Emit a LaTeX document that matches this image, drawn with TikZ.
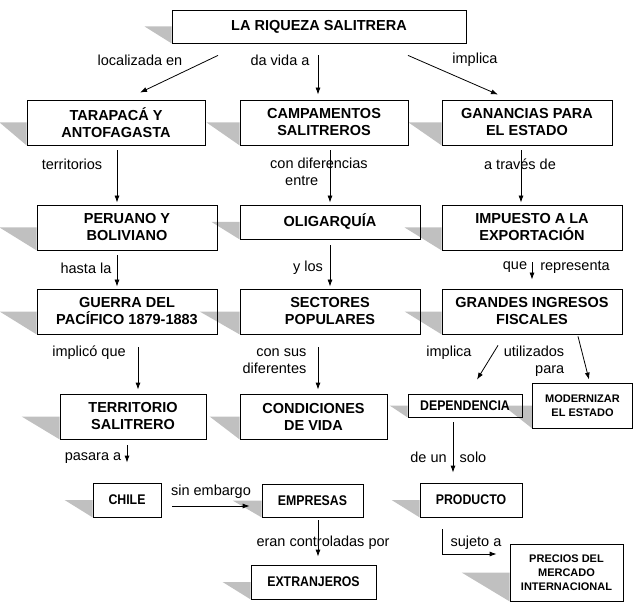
\documentclass[tikz,border=0pt]{standalone}
\usepackage{fontspec}
\setmainfont{Liberation Sans}
\newfontfamily\narrowsans[FakeStretch=0.88]{Liberation Sans}
\usepackage{tikz}
\usetikzlibrary{arrows.meta,backgrounds}
\usepackage{xcolor}
\definecolor{shadowgrey}{RGB}{192,192,192}
\tikzset{
  bigbox/.style={draw=black, line width=0.8pt, align=center, inner sep=0pt, font=\bfseries\fontsize{14.5}{17}\selectfont},
  smallbox/.style={draw=black, line width=0.8pt, align=center, inner sep=0pt, font=\narrowsans\bfseries\fontsize{14}{16}\selectfont},
  tinybox/.style={draw=black, line width=0.8pt, align=center, inner sep=0pt, font=\bfseries\fontsize{11}{14}\selectfont},
  linklabel/.style={inner sep=0pt, align=center, font=\fontsize{14.5}{17}\selectfont},
  arrow/.style={-{Latex[length=7pt,width=5pt]}, line width=0.8pt},
  shade/.style={fill=shadowgrey, draw=none}
}
\begin{document}
\begin{tikzpicture}[x=1pt, y=-1pt]
\useasboundingbox (0,0) rectangle (639,609);
\node[bigbox, minimum width=294pt, minimum height=33pt] (riqueza) at (319,26.5) {LA RIQUEZA SALITRERA};
\node[bigbox, minimum width=178pt, minimum height=45pt] (tarapaca) at (116,122.5) {TARAPACÁ Y\\ANTOFAGASTA};
\node[bigbox, minimum width=168pt, minimum height=45pt] (campamentos) at (324,122.5) {CAMPAMENTOS\\SALITREROS};
\node[bigbox, minimum width=170pt, minimum height=45pt] (ganancias) at (527,122.5) {GANANCIAS PARA\\EL ESTADO};
\node[bigbox, minimum width=180pt, minimum height=45pt] (peruano) at (127,227.5) {PERUANO Y\\BOLIVIANO};
\node[bigbox, minimum width=180pt, minimum height=34pt] (oligarquia) at (330,222) {OLIGARQUÍA};
\node[bigbox, minimum width=180pt, minimum height=45pt] (impuesto) at (532,227.5) {IMPUESTO A LA\\EXPORTACIÓN};
\node[bigbox, minimum width=180pt, minimum height=45pt] (guerra) at (127,311.5) {GUERRA DEL\\PACÍFICO 1879-1883};
\node[bigbox, minimum width=180pt, minimum height=45pt] (sectores) at (330,311.5) {SECTORES\\POPULARES};
\node[bigbox, minimum width=180pt, minimum height=45pt] (grandes) at (532,311.5) {GRANDES INGRESOS\\FISCALES};
\node[bigbox, minimum width=146pt, minimum height=45pt] (territorio) at (133,416.5) {TERRITORIO\\SALITRERO};
\node[bigbox, minimum width=147pt, minimum height=45pt] (condiciones) at (313.5,416.5) {CONDICIONES\\DE VIDA};
\node[smallbox, minimum width=114pt, minimum height=23pt] (dependencia) at (465,405.5) {DEPENDENCIA};
\node[tinybox, minimum width=100pt, minimum height=45pt] (modernizar) at (582.5,405.5) {MODERNIZAR\\EL ESTADO};
\node[smallbox, minimum width=68pt, minimum height=34pt] (chile) at (127,500) {CHILE};
\node[smallbox, minimum width=101pt, minimum height=33pt] (empresas) at (312.5,500.5) {EMPRESAS};
\node[smallbox, minimum width=102pt, minimum height=34pt] (producto) at (471,500) {PRODUCTO};
\node[smallbox, minimum width=125pt, minimum height=34pt] (extranjeros) at (313.5,582) {EXTRANJEROS};
\node[tinybox, minimum width=113pt, minimum height=57pt] (precios) at (566.5,572.5) {PRECIOS DEL\\MERCADO\\INTERNACIONAL};

\begin{scope}[on background layer]
\foreach \n/\w in {riqueza/27, tarapaca/27, campamentos/33, ganancias/33, peruano/37, oligarquia/28, impuesto/37, guerra/37, sectores/40, grandes/37, territorio/38, condiciones/30, dependencia/18, modernizar/29, chile/28, empresas/29, producto/28, extranjeros/28, precios/48}
  \fill[shade] (\n.west) -- ++(-\w,0) -- (\n.south west) -- cycle;
\end{scope}

\node[linklabel] (lbLocalizada) at (140,60) {localizada en};
\node[linklabel] (lbDaVida) at (280,60) {da vida a};
\node[linklabel] (lbImplica) at (475,60) {implica};
\node[linklabel] (lbTerritorios) at (72,164) {territorios};
\node[linklabel, align=left] (lbDiferencias) at (319,171.5) {con diferencias\\\hspace*{15pt}entre};
\node[linklabel] (lbTraves) at (520,164) {a través de};
\node[linklabel] (lbHasta) at (86,268) {hasta la};
\node[linklabel] (lbYlos) at (308,268) {y los};
\node[linklabel] (lbQue) at (515,267) {que};
\node[linklabel] (lbRepresenta) at (575,267) {representa};
\node[linklabel] (lbImplico) at (89,353) {implicó que};
\node[linklabel, align=right] (lbConSus) at (274.5,361.5) {con sus\\diferentes};
\node[linklabel] (lbImplicaDos) at (449,353) {implica};
\node[linklabel, align=right] (lbUtilizados) at (534,361.5) {utilizados\\para};
\node[linklabel] (lbPasara) at (93,458) {pasara a};
\node[linklabel] (lbSinEmbargo) at (211,492) {sin embargo};
\node[linklabel] (lbControladas) at (323,543) {eran controladas por};
\node[linklabel] (lbDeUn) at (428.5,457) {de un};
\node[linklabel] (lbSolo) at (473,457) {solo};
\node[linklabel] (lbSujeto) at (476,543) {sujeto a};

\draw[arrow] ([xshift=-101pt,yshift=-12pt]riqueza.south) -- ([xshift=24pt,yshift=7pt]tarapaca.north);
\draw[arrow] ([xshift=-1pt,yshift=-12pt]riqueza.south) -- ([xshift=-6pt,yshift=5pt]campamentos.north);
\draw[arrow] ([xshift=89pt,yshift=-12pt]riqueza.south) -- ([xshift=-29pt,yshift=5pt]ganancias.north);
\draw[arrow] ([xshift=1pt,yshift=-5pt]tarapaca.south) -- ([xshift=-10pt,yshift=2pt]peruano.north);
\draw[arrow] ([xshift=6pt,yshift=-5pt]campamentos.south) -- ([yshift=2pt]oligarquia.north);
\draw[arrow] ([xshift=-6pt,yshift=-5pt]ganancias.south) -- ([xshift=-11pt,yshift=2pt]impuesto.north);
\draw[arrow] ([xshift=-10pt,yshift=-5pt]peruano.south) -- ([xshift=-10pt,yshift=2pt]guerra.north);
\draw[arrow] ([yshift=-6pt]oligarquia.south) -- ([yshift=2pt]sectores.north);
\draw[arrow] ([yshift=-12pt]impuesto.south) -- ([yshift=9pt]grandes.north);
\draw[arrow] ([xshift=11pt,yshift=-13pt]guerra.south) -- ([xshift=5pt,yshift=4pt]territorio.north);
\draw[arrow] ([xshift=-12pt,yshift=-13pt]sectores.south) -- ([xshift=4.5pt,yshift=4pt]condiciones.north);
\draw[arrow] ([xshift=-34pt,yshift=-11pt]grandes.south) -- ([xshift=12pt,yshift=14pt]dependencia.north);
\draw[arrow] ([xshift=46pt,yshift=-2pt]grandes.south) -- ([xshift=6.5pt,yshift=3pt]modernizar.north);
\draw[arrow] ([xshift=-6pt,yshift=-6pt]territorio.south) -- ([yshift=20pt]chile.north);
\draw[arrow] ([xshift=11pt,yshift=-6pt]chile.east) -- ([xshift=-12pt,yshift=-5.5pt]empresas.west);
\draw[arrow] ([xshift=5.5pt,yshift=-3pt]empresas.south) -- ([xshift=4.5pt,yshift=8pt]extranjeros.north);
\draw[arrow] ([xshift=-12pt,yshift=-5pt]dependencia.south) -- ([xshift=-18pt,yshift=10pt]producto.north);
\draw[arrow] ([xshift=-29pt,yshift=-12pt]producto.south) |- ([xshift=-13pt,yshift=18.5pt]precios.west);
\end{tikzpicture}
\end{document}
